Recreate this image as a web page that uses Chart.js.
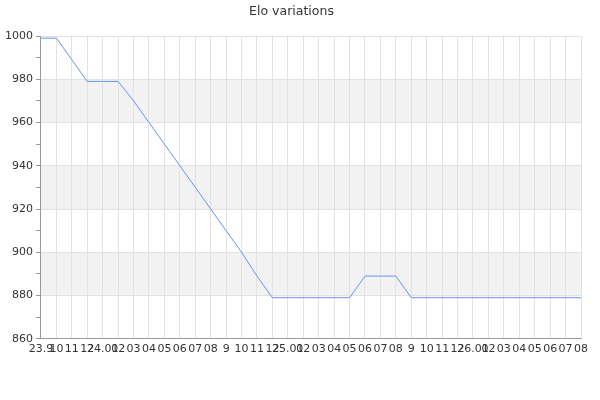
<!DOCTYPE html>
<html>
<head>
<meta charset="utf-8">
<script src="https://cdn.jsdelivr.net/npm/chart.js@4.4.1/dist/chart.umd.min.js"></script>
<style>
  html, body { margin: 0; padding: 0; background: #fff; }
  #wrap { width: 600px; height: 400px; }
</style>
</head>
<body>
<div id="wrap"><canvas id="chart"></canvas></div>
<script>
// x labels as shown under the axis (they overlap in the original too)
const labels = ["23.9", "10", "11", "12", "24.01", "02", "03", "04", "05", "06", "07", "08",
  "9", "10", "11", "12", "25.01", "02", "03", "04", "05", "06", "07", "08",
  "9", "10", "11", "12", "26.01", "02", "03", "04", "05", "06", "07", "08"]

// elo per point
const elo = [999, 999, 989, 979, 979, 979, 970, 960, 950, 940, 930, 920,
  910, 900, 889, 879, 879, 879, 879, 879, 879, 889, 889, 889,
  879, 879, 879, 879, 879, 879, 879, 879, 879, 879, 879, 879]

// shaded horizontal bands (value ranges)
const bands = [[960, 980], [920, 940], [880, 900]]

const yMin = 860
const yMax = 1000

const bandPlugin = {
  id: "bands",
  beforeDraw(chart) {
    const { ctx, chartArea, scales } = chart
    ctx.save()
    ctx.fillStyle = "#f2f2f2"
    bands.forEach(([lo, hi]) => {
      const yTop = scales.y.getPixelForValue(hi)
      const yBot = scales.y.getPixelForValue(lo)
      ctx.fillRect(chartArea.left, yTop, chartArea.right - chartArea.left, yBot - yTop)
    })
    ctx.restore()
  },
}

Chart.defaults.font.family = "'DejaVu Sans', sans-serif"
Chart.defaults.color = "#333"

new Chart(document.getElementById("chart").getContext("2d"), {
  type: "line",
  data: {
    labels: labels,
    datasets: [
      {
        label: "Elo",
        data: elo,
        borderColor: "#6495ed",
        borderWidth: 1,
        pointRadius: 0,
        tension: 0,
        fill: false,
      },
    ],
  },
  options: {
    responsive: true,
    maintainAspectRatio: false,
    animation: false,
    layout: { padding: { left: 2, right: 19, top: 0, bottom: 40 } },
    scales: {
      x: {
        grid: { color: "#e2e2e2", drawTicks: false },
        border: { color: "#999" },
        ticks: {
          autoSkip: false,
          maxRotation: 0,
          minRotation: 0,
          padding: 4,
          font: { size: 11 },
        },
      },
      y: {
        min: yMin,
        max: yMax,
        grid: {
          color: (c) => (c.tick && c.tick.value % 20 === 0 ? "#e2e2e2" : "rgba(0,0,0,0)"),
          tickColor: "#999",
          tickLength: 5,
        },
        border: { color: "#999" },
        ticks: {
          stepSize: 10,
          padding: 3,
          font: { size: 11 },
          callback: (v) => (v % 20 === 0 ? v : ""),
        },
      },
    },
    plugins: {
      legend: { display: false },
      tooltip: { enabled: false },
      title: {
        display: true,
        text: "Elo variations",
        font: { size: 12.5, weight: "normal" },
        color: "#333",
        padding: { top: 4, bottom: 17 },
      },
    },
  },
  plugins: [bandPlugin],
})
</script>
</body>
</html>
